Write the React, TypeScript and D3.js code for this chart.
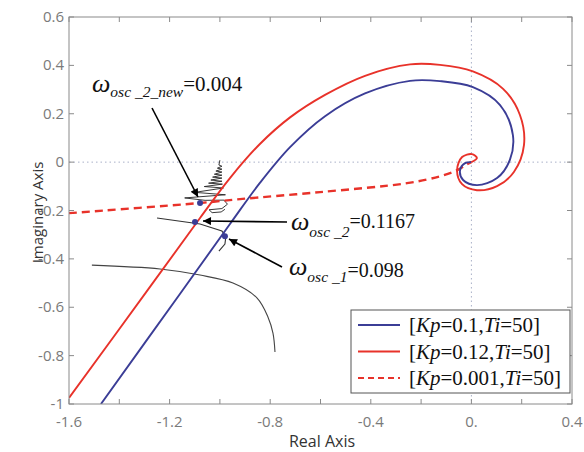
import React from "react";
import * as d3 from "d3";

// Nyquist curves (real, imag)
const blueKp01: [number, number][] = [
  [-1.473, -1.0], [-1.159, -0.545], [-0.96, -0.256], [-0.841, -0.086], [-0.721, 0.062],
  [-0.582, 0.19], [-0.423, 0.284], [-0.244, 0.336], [-0.125, 0.335], [0.006, 0.31],
  [0.114, 0.236], [0.165, 0.112], [0.153, 0.009], [0.102, -0.066], [0.022, -0.095],
  [-0.033, -0.074], [-0.045, -0.033], [-0.025, -0.004], [0, 0],
];
const redKp012: [number, number][] = [
  [-1.6, -0.975], [-1.278, -0.516], [-1.079, -0.231], [-0.96, -0.066], [-0.841, 0.075],
  [-0.721, 0.185], [-0.582, 0.278], [-0.423, 0.357], [-0.244, 0.404], [-0.125, 0.402],
  [0.006, 0.375], [0.126, 0.303], [0.193, 0.195], [0.209, 0.07], [0.169, -0.041],
  [0.102, -0.099], [0.022, -0.116], [-0.037, -0.091], [-0.057, -0.033], [-0.037, 0.021],
  [0.002, 0.033], [0.022, 0.017], [0, 0],
];
const dashedKp0001: [number, number][] = [
  [-1.6, -0.211], [-1.079, -0.169], [-0.92, -0.153], [-0.602, -0.124], [-0.256, -0.087],
  [-0.123, -0.058], [-0.056, -0.033], [-0.02, -0.01], [0, 0],
];
// thin black trajectories
const blackCurveA: [number, number][] = [
  [-1.509, -0.426], [-1.238, -0.442], [-1.079, -0.467], [-0.948, -0.5], [-0.852, -0.562],
  [-0.809, -0.64], [-0.789, -0.707], [-0.781, -0.785],
];
const blackCurveB: [number, number][] = [
  [-1.25, -0.231], [-1.079, -0.256], [-0.992, -0.285], [-0.976, -0.306], [-0.98, -0.339],
  [-1.004, -0.368],
];
const blackSpiral: [number, number][] = [
  [-1.0, 0.008], [-1.004, -0.012], [-0.992, -0.017], [-1.01, -0.025], [-0.992, -0.029],
  [-1.016, -0.037], [-0.992, -0.041], [-1.022, -0.05], [-0.992, -0.054], [-1.029, -0.062],
  [-0.992, -0.066], [-1.036, -0.074], [-0.992, -0.079], [-1.045, -0.087], [-0.99, -0.091],
  [-1.062, -0.101], [-0.986, -0.107], [-1.1, -0.125], [-0.978, -0.135], [-1.14, -0.148],
  [-1.059, -0.158], [-0.984, -0.157], [-0.97, -0.174], [-0.992, -0.192], [-1.043, -0.197],
  [-1.031, -0.209], [-0.995, -0.206], [-0.98, -0.195],
];
// oscillation points
const oscPoints: [number, number][] = [[-1.079, -0.169], [-1.099, -0.248], [-0.98, -0.306]];

const xTicks = [-1.6, -1.4, -1.2, -1.0, -0.8, -0.6, -0.4, -0.2, 0, 0.2, 0.4];
const xTickLabels = ["-1.6", "", "-1.2", "", "-0.8", "", "-0.4", "", "0.", "", "0.4"];
const yTicks = [0.6, 0.4, 0.2, 0, -0.2, -0.4, -0.6, -0.8, -1];
const yTickLabels = ["0.6", "0.4", "0.2", "0", "-0.2", "-0.4", "-0.6", "-0.8", "-1"];

const legendLabels = [
  ["0.1", "50"],
  ["0.12", "50"],
  ["0.001", "50"],
];

const BLUE = "#3b3d96";
const RED = "#e8322a";

export default function App() {
  const L = 69, R = 572, T = 17, B = 404;
  const x = d3.scaleLinear().domain([-1.6, 0.4]).range([L, R]);
  const y = d3.scaleLinear().domain([-1, 0.6]).range([B, T]);
  const line = d3.line<[number, number]>().x((d) => x(d[0])).y((d) => y(d[1])).curve(d3.curveCatmullRom.alpha(0.5));
  const lineLin = d3.line<[number, number]>().x((d) => x(d[0])).y((d) => y(d[1]));
  const tickColor = "#8a8a8a";
  const labelColor = "#7a7a7a";
  const serif = "'Liberation Serif', 'Times New Roman', serif";
  const sans = "'Open Sans', 'DejaVu Sans', sans-serif";
  const legendStyles = [
    { stroke: BLUE, dash: undefined },
    { stroke: RED, dash: undefined },
    { stroke: RED, dash: "6,4" },
  ];
  return (
    <svg width={584} height={452} style={{ position: "absolute", left: 0, top: 0, background: "#fff" }}>
      <defs>
        <clipPath id="plot">
          <rect x={L} y={T} width={R - L} height={B - T} />
        </clipPath>
        <marker id="ah" viewBox="0 0 10 10" refX="10" refY="5" markerWidth="10" markerHeight="8" orient="auto" markerUnits="userSpaceOnUse">
          <path d="M0,0 L10,5 L0,10 z" fill="#000" />
        </marker>
      </defs>
      <rect x={L} y={T} width={R - L} height={B - T} fill="#fff" />
      {/* zero lines */}
      <line x1={x(0)} x2={x(0)} y1={T} y2={B} stroke="#a9b0c8" strokeDasharray="1.5,3" />
      <line x1={L} x2={R} y1={y(0)} y2={y(0)} stroke="#a9b0c8" strokeDasharray="1.5,3" />
      <g clipPath="url(#plot)" fill="none">
        <path d={line(blackCurveA) || ""} stroke="#444" strokeWidth={1.1} />
        <path d={lineLin(blackCurveB) || ""} stroke="#333" strokeWidth={1.1} />
        <path d={lineLin(blackSpiral) || ""} stroke="#222" strokeWidth={0.9} />
        <path d={line(dashedKp0001) || ""} stroke={RED} strokeWidth={2.4} strokeDasharray="8,5" />
        <path d={line(blueKp01) || ""} stroke={BLUE} strokeWidth={1.9} />
        <path d={line(redKp012) || ""} stroke={RED} strokeWidth={1.9} />
      </g>
      {oscPoints.map((p, i) => (
        <circle key={i} cx={x(p[0])} cy={y(p[1])} r={3} fill={BLUE} />
      ))}
      {/* frame */}
      <rect x={L} y={T} width={R - L} height={B - T} fill="none" stroke={tickColor} strokeWidth={1} />
      {xTicks.map((t, i) => (
        <g key={"x" + i}>
          <line x1={x(t)} x2={x(t)} y1={B} y2={B - 5} stroke={tickColor} />
          <line x1={x(t)} x2={x(t)} y1={T} y2={T + 5} stroke={tickColor} />
          {xTickLabels[i] && (
            <text x={x(t)} y={427} textAnchor="middle" fontFamily={sans} fontSize={15} fill={labelColor}>
              {xTickLabels[i]}
            </text>
          )}
        </g>
      ))}
      {yTicks.map((t, i) => (
        <g key={"y" + i}>
          <line x1={L} x2={L + 5} y1={y(t)} y2={y(t)} stroke={tickColor} />
          <line x1={R} x2={R - 5} y1={y(t)} y2={y(t)} stroke={tickColor} />
          <text x={64} y={y(t) + 5} textAnchor="end" fontFamily={sans} fontSize={15} fill={labelColor}>
            {yTickLabels[i]}
          </text>
        </g>
      ))}
      <text x={322} y={447} textAnchor="middle" fontFamily={sans} fontSize={16} fill="#333">Real Axis</text>
      <text transform={`translate(43,${(T + B) / 2 + 2}) rotate(-90)`} textAnchor="middle" fontFamily={sans} fontSize={15} fill="#333">
        Imaginary Axis
      </text>
      {/* arrows */}
      <line x1={152} y1={108} x2={198} y2={197} stroke="#000" strokeWidth={1.6} markerEnd="url(#ah)" />
      <line x1={287} y1={222} x2={203} y2={221} stroke="#000" strokeWidth={1.6} markerEnd="url(#ah)" />
      <line x1={282} y1={267} x2={229} y2={239} stroke="#000" strokeWidth={1.6} markerEnd="url(#ah)" />
      {/* annotations */}
      <text x={92} y={92} fontFamily={serif} fill="#111">
        <tspan fontSize={26} fontStyle="italic">ω</tspan>
        <tspan fontSize={15.5} fontStyle="italic" dy={5}>osc _2_new</tspan>
        <tspan fontSize={21} dy={-6}>=0.004</tspan>
      </text>
      <text x={291} y={230} fontFamily={serif} fill="#111">
        <tspan fontSize={26} fontStyle="italic">ω</tspan>
        <tspan fontSize={15.5} fontStyle="italic" dy={7}>osc _2</tspan>
        <tspan fontSize={20} dy={-9}>=0.1167</tspan>
      </text>
      <text x={289} y={275} fontFamily={serif} fill="#111">
        <tspan fontSize={26} fontStyle="italic">ω</tspan>
        <tspan fontSize={15.5} fontStyle="italic" dy={7}>osc _1</tspan>
        <tspan fontSize={20} dy={-5}>=0.098</tspan>
      </text>
      {/* legend */}
      <rect x={351} y={310} width={219} height={83} fill="#fff" stroke="#555" strokeWidth={1} />
      {legendLabels.map((lab, i) => {
        const ly = 325 + i * 26.5;
        return (
          <g key={"l" + i}>
            <line x1={358} x2={400} y1={ly} y2={ly} stroke={legendStyles[i].stroke} strokeWidth={2} strokeDasharray={legendStyles[i].dash} />
            <text x={409} y={ly + 7} fontFamily={serif} fontSize={21} fill="#111">
              <tspan>[</tspan>
              <tspan fontStyle="italic">Kp</tspan>
              <tspan>={lab[0]},</tspan>
              <tspan fontStyle="italic">Ti</tspan>
              <tspan>={lab[1]}]</tspan>
            </text>
          </g>
        );
      })}
    </svg>
  );
}
